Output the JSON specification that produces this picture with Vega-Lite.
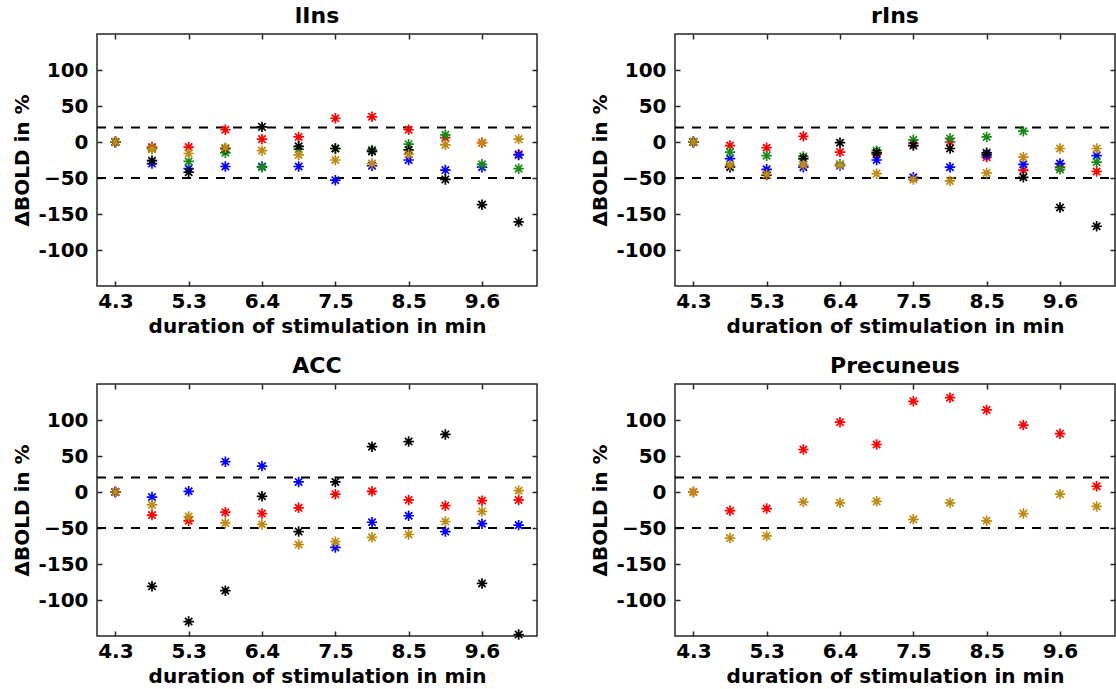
{
  "$schema": "https://vega.github.io/schema/vega-lite/v6.json",
  "autosize": {"type": "pad"},
  "padding": {"left": 12, "top": 4, "right": 0, "bottom": 0},
  "background": "white",
  "config": {
    "font": "DejaVu Sans",
    "view": {"stroke": "#262626", "strokeWidth": 1.5},
    "axis": {
      "labelFont": "DejaVu Sans", "labelFontSize": 20, "labelFontWeight": "bold", "labelColor": "black",
      "titleFont": "DejaVu Sans", "titleFontSize": 20, "titleFontWeight": "bold", "titleColor": "black",
      "grid": false, "domain": false, "tickColor": "#262626", "tickWidth": 1.5, "tickSize": -5
    },
    "title": {"font": "DejaVu Sans", "fontSize": 22, "fontWeight": "bold", "color": "black", "offset": 5}
  },
  "datasets": {
    "lIns": [
      {"s":"red","t":4.267,"v":0},{"s":"red","t":4.8,"v":-7},{"s":"red","t":5.333,"v":-7},{"s":"red","t":5.867,"v":17},{"s":"red","t":6.4,"v":4},{"s":"red","t":6.933,"v":7},{"s":"red","t":7.467,"v":33},{"s":"red","t":8.0,"v":35},{"s":"red","t":8.533,"v":17},{"s":"red","t":9.067,"v":6},{"s":"red","t":9.6,"v":-1},{"s":"red","t":10.133,"v":-17},
      {"s":"blue","t":4.267,"v":0},{"s":"blue","t":4.8,"v":-30},{"s":"blue","t":5.333,"v":-37},{"s":"blue","t":5.867,"v":-34},{"s":"blue","t":6.4,"v":-34},{"s":"blue","t":6.933,"v":-34},{"s":"blue","t":7.467,"v":-53},{"s":"blue","t":8.0,"v":-33},{"s":"blue","t":8.533,"v":-25},{"s":"blue","t":9.067,"v":-39},{"s":"blue","t":9.6,"v":-35},{"s":"blue","t":10.133,"v":-18},
      {"s":"green","t":4.267,"v":0},{"s":"green","t":4.8,"v":-9},{"s":"green","t":5.333,"v":-27},{"s":"green","t":5.867,"v":-15},{"s":"green","t":6.4,"v":-35},{"s":"green","t":6.933,"v":-10},{"s":"green","t":7.467,"v":-9},{"s":"green","t":8.0,"v":-11},{"s":"green","t":8.533,"v":-3},{"s":"green","t":9.067,"v":10},{"s":"green","t":9.6,"v":-31},{"s":"green","t":10.133,"v":-37},
      {"s":"black","t":4.267,"v":0},{"s":"black","t":4.8,"v":-26},{"s":"black","t":5.333,"v":-42},{"s":"black","t":5.867,"v":-9},{"s":"black","t":6.4,"v":21},{"s":"black","t":6.933,"v":-6},{"s":"black","t":7.467,"v":-9},{"s":"black","t":8.0,"v":-13},{"s":"black","t":8.533,"v":-11},{"s":"black","t":9.067,"v":-52},{"s":"black","t":9.6,"v":-87},{"s":"black","t":10.133,"v":-111},
      {"s":"gold","t":4.267,"v":0},{"s":"gold","t":4.8,"v":-10},{"s":"gold","t":5.333,"v":-16},{"s":"gold","t":5.867,"v":-8},{"s":"gold","t":6.4,"v":-12},{"s":"gold","t":6.933,"v":-18},{"s":"gold","t":7.467,"v":-25},{"s":"gold","t":8.0,"v":-30},{"s":"gold","t":8.533,"v":-17},{"s":"gold","t":9.067,"v":-4},{"s":"gold","t":9.6,"v":-1},{"s":"gold","t":10.133,"v":4}
    ],
    "rIns": [
      {"s":"red","t":4.267,"v":0},{"s":"red","t":4.8,"v":-5},{"s":"red","t":5.333,"v":-8},{"s":"red","t":5.867,"v":8},{"s":"red","t":6.4,"v":-14},{"s":"red","t":6.933,"v":-17},{"s":"red","t":7.467,"v":-2},{"s":"red","t":8.0,"v":0},{"s":"red","t":8.533,"v":-21},{"s":"red","t":9.067,"v":-39},{"s":"red","t":9.6,"v":-35},{"s":"red","t":10.133,"v":-41},
      {"s":"blue","t":4.267,"v":0},{"s":"blue","t":4.8,"v":-23},{"s":"blue","t":5.333,"v":-38},{"s":"blue","t":5.867,"v":-35},{"s":"blue","t":6.4,"v":-33},{"s":"blue","t":6.933,"v":-25},{"s":"blue","t":7.467,"v":-49},{"s":"blue","t":8.0,"v":-35},{"s":"blue","t":8.533,"v":-18},{"s":"blue","t":9.067,"v":-31},{"s":"blue","t":9.6,"v":-30},{"s":"blue","t":10.133,"v":-19},
      {"s":"green","t":4.267,"v":0},{"s":"green","t":4.8,"v":-14},{"s":"green","t":5.333,"v":-19},{"s":"green","t":5.867,"v":-20},{"s":"green","t":6.4,"v":-31},{"s":"green","t":6.933,"v":-12},{"s":"green","t":7.467,"v":3},{"s":"green","t":8.0,"v":5},{"s":"green","t":8.533,"v":7},{"s":"green","t":9.067,"v":15},{"s":"green","t":9.6,"v":-38},{"s":"green","t":10.133,"v":-28},
      {"s":"black","t":4.267,"v":0},{"s":"black","t":4.8,"v":-35},{"s":"black","t":5.333,"v":-46},{"s":"black","t":5.867,"v":-23},{"s":"black","t":6.4,"v":-1},{"s":"black","t":6.933,"v":-15},{"s":"black","t":7.467,"v":-5},{"s":"black","t":8.0,"v":-9},{"s":"black","t":8.533,"v":-15},{"s":"black","t":9.067,"v":-49},{"s":"black","t":9.6,"v":-91},{"s":"black","t":10.133,"v":-117},
      {"s":"gold","t":4.267,"v":0},{"s":"gold","t":4.8,"v":-32},{"s":"gold","t":5.333,"v":-45},{"s":"gold","t":5.867,"v":-32},{"s":"gold","t":6.4,"v":-32},{"s":"gold","t":6.933,"v":-44},{"s":"gold","t":7.467,"v":-52},{"s":"gold","t":8.0,"v":-54},{"s":"gold","t":8.533,"v":-43},{"s":"gold","t":9.067,"v":-21},{"s":"gold","t":9.6,"v":-9},{"s":"gold","t":10.133,"v":-9}
    ],
    "ACC": [
      {"s":"red","t":4.267,"v":0},{"s":"red","t":4.8,"v":-32},{"s":"red","t":5.333,"v":-40},{"s":"red","t":5.867,"v":-28},{"s":"red","t":6.4,"v":-30},{"s":"red","t":6.933,"v":-22},{"s":"red","t":7.467,"v":-3},{"s":"red","t":8.0,"v":1},{"s":"red","t":8.533,"v":-11},{"s":"red","t":9.067,"v":-19},{"s":"red","t":9.6,"v":-12},{"s":"red","t":10.133,"v":-11},
      {"s":"blue","t":4.267,"v":0},{"s":"blue","t":4.8,"v":-7},{"s":"blue","t":5.333,"v":1},{"s":"blue","t":5.867,"v":42},{"s":"blue","t":6.4,"v":36},{"s":"blue","t":6.933,"v":14},{"s":"blue","t":7.467,"v":-77},{"s":"blue","t":8.0,"v":-42},{"s":"blue","t":8.533,"v":-33},{"s":"blue","t":9.067,"v":-55},{"s":"blue","t":9.6,"v":-44},{"s":"blue","t":10.133,"v":-46},
      {"s":"black","t":4.267,"v":0},{"s":"black","t":4.8,"v":-131},{"s":"black","t":5.333,"v":-180},{"s":"black","t":5.867,"v":-137},{"s":"black","t":6.4,"v":-6},{"s":"black","t":6.933,"v":-55},{"s":"black","t":7.467,"v":14},{"s":"black","t":8.0,"v":63},{"s":"black","t":8.533,"v":70},{"s":"black","t":9.067,"v":80},{"s":"black","t":9.6,"v":-127},{"s":"black","t":10.133,"v":-198},
      {"s":"gold","t":4.267,"v":0},{"s":"gold","t":4.8,"v":-18},{"s":"gold","t":5.333,"v":-34},{"s":"gold","t":5.867,"v":-43},{"s":"gold","t":6.4,"v":-45},{"s":"gold","t":6.933,"v":-73},{"s":"gold","t":7.467,"v":-69},{"s":"gold","t":8.0,"v":-63},{"s":"gold","t":8.533,"v":-59},{"s":"gold","t":9.067,"v":-41},{"s":"gold","t":9.6,"v":-27},{"s":"gold","t":10.133,"v":2}
    ],
    "Precuneus": [
      {"s":"red","t":4.267,"v":0},{"s":"red","t":4.8,"v":-26},{"s":"red","t":5.333,"v":-23},{"s":"red","t":5.867,"v":59},{"s":"red","t":6.4,"v":97},{"s":"red","t":6.933,"v":66},{"s":"red","t":7.467,"v":126},{"s":"red","t":8.0,"v":131},{"s":"red","t":8.533,"v":114},{"s":"red","t":9.067,"v":93},{"s":"red","t":9.6,"v":81},{"s":"red","t":10.133,"v":8},
      {"s":"gold","t":4.267,"v":0},{"s":"gold","t":4.8,"v":-64},{"s":"gold","t":5.333,"v":-61},{"s":"gold","t":5.867,"v":-14},{"s":"gold","t":6.4,"v":-15},{"s":"gold","t":6.933,"v":-13},{"s":"gold","t":7.467,"v":-38},{"s":"gold","t":8.0,"v":-15},{"s":"gold","t":8.533,"v":-40},{"s":"gold","t":9.067,"v":-30},{"s":"gold","t":9.6,"v":-3},{"s":"gold","t":10.133,"v":-20}
    ],
    "refs": [{"ref": 20}, {"ref": -50}]
  },
  "columns": 2,
  "spacing": {"row": 98, "column": 138},
  "bounds": "flush",
  "concat": [
    {
      "title": "lIns", "width": 440, "height": 252,
      "layer": [
        {"data": {"name": "refs"}, "mark": {"type": "rule", "strokeDash": [9, 8], "strokeWidth": 2, "color": "black"},
         "encoding": {
           "x": {"datum": 4, "type": "quantitative", "scale": {"domain": [4, 10.4], "nice": false, "zero": false}, "axis": {"orient": "top", "labels": false, "title": null, "values": [4.267, 5.333, 6.4, 7.467, 8.533, 9.6]}},
           "x2": {"datum": 10.4},
           "y": {"field": "ref", "type": "quantitative", "scale": {"domain": [-200, 150], "nice": false, "zero": false}, "axis": {"orient": "right", "labels": false, "title": null, "values": [100, 50, 0, -50, -100, -150]}}
         }},
        {"data": {"name": "lIns"}, "mark": {"type": "point", "shape": "M-1,0L1,0M0,-1L0,1M-0.7,-0.7L0.7,0.7M-0.7,0.7L0.7,-0.7", "filled": false, "size": 110, "strokeWidth": 1.7, "opacity": 1},
         "encoding": {
           "x": {"field": "t", "type": "quantitative", "scale": {"domain": [4, 10.4], "nice": false, "zero": false}, "axis": {"orient": "bottom", "title": "duration of stimulation in min", "values": [4.267, 5.333, 6.4, 7.467, 8.533, 9.6], "format": ".1f", "labelPadding": 10, "titlePadding": 5}},
           "y": {"field": "v", "type": "quantitative", "scale": {"domain": [-200, 150], "nice": false, "zero": false}, "axis": {"orient": "left", "title": "ΔBOLD in %", "values": [100, 50, 0, -50, -100, -150], "labelExpr": "datum.value == -100 ? '-150' : datum.value == -150 ? '-100' : datum.label", "labelPadding": 14, "titlePadding": 5}},
           "color": {"field": "s", "type": "nominal", "scale": {"domain": ["red", "blue", "green", "black", "gold"], "range": ["#ff0000", "#0000ff", "#1a8a1a", "#000000", "#be8c14"]}, "legend": null}
         }}
      ],
      "resolve": {"axis": {"x": "independent", "y": "independent"}}
    },
    {
      "title": "rIns", "width": 440, "height": 252,
      "layer": [
        {"data": {"name": "refs"}, "mark": {"type": "rule", "strokeDash": [9, 8], "strokeWidth": 2, "color": "black"},
         "encoding": {
           "x": {"datum": 4, "type": "quantitative", "scale": {"domain": [4, 10.4], "nice": false, "zero": false}, "axis": {"orient": "top", "labels": false, "title": null, "values": [4.267, 5.333, 6.4, 7.467, 8.533, 9.6]}},
           "x2": {"datum": 10.4},
           "y": {"field": "ref", "type": "quantitative", "scale": {"domain": [-200, 150], "nice": false, "zero": false}, "axis": {"orient": "right", "labels": false, "title": null, "values": [100, 50, 0, -50, -100, -150]}}
         }},
        {"data": {"name": "rIns"}, "mark": {"type": "point", "shape": "M-1,0L1,0M0,-1L0,1M-0.7,-0.7L0.7,0.7M-0.7,0.7L0.7,-0.7", "filled": false, "size": 110, "strokeWidth": 1.7, "opacity": 1},
         "encoding": {
           "x": {"field": "t", "type": "quantitative", "scale": {"domain": [4, 10.4], "nice": false, "zero": false}, "axis": {"orient": "bottom", "title": "duration of stimulation in min", "values": [4.267, 5.333, 6.4, 7.467, 8.533, 9.6], "format": ".1f", "labelPadding": 10, "titlePadding": 5}},
           "y": {"field": "v", "type": "quantitative", "scale": {"domain": [-200, 150], "nice": false, "zero": false}, "axis": {"orient": "left", "title": "ΔBOLD in %", "values": [100, 50, 0, -50, -100, -150], "labelExpr": "datum.value == -100 ? '-150' : datum.value == -150 ? '-100' : datum.label", "labelPadding": 14, "titlePadding": 5}},
           "color": {"field": "s", "type": "nominal", "scale": {"domain": ["red", "blue", "green", "black", "gold"], "range": ["#ff0000", "#0000ff", "#1a8a1a", "#000000", "#be8c14"]}, "legend": null}
         }}
      ],
      "resolve": {"axis": {"x": "independent", "y": "independent"}}
    },
    {
      "title": "ACC", "width": 440, "height": 252,
      "layer": [
        {"data": {"name": "refs"}, "mark": {"type": "rule", "strokeDash": [9, 8], "strokeWidth": 2, "color": "black"},
         "encoding": {
           "x": {"datum": 4, "type": "quantitative", "scale": {"domain": [4, 10.4], "nice": false, "zero": false}, "axis": {"orient": "top", "labels": false, "title": null, "values": [4.267, 5.333, 6.4, 7.467, 8.533, 9.6]}},
           "x2": {"datum": 10.4},
           "y": {"field": "ref", "type": "quantitative", "scale": {"domain": [-200, 150], "nice": false, "zero": false}, "axis": {"orient": "right", "labels": false, "title": null, "values": [100, 50, 0, -50, -100, -150]}}
         }},
        {"data": {"name": "ACC"}, "mark": {"type": "point", "shape": "M-1,0L1,0M0,-1L0,1M-0.7,-0.7L0.7,0.7M-0.7,0.7L0.7,-0.7", "filled": false, "size": 110, "strokeWidth": 1.7, "opacity": 1},
         "encoding": {
           "x": {"field": "t", "type": "quantitative", "scale": {"domain": [4, 10.4], "nice": false, "zero": false}, "axis": {"orient": "bottom", "title": "duration of stimulation in min", "values": [4.267, 5.333, 6.4, 7.467, 8.533, 9.6], "format": ".1f", "labelPadding": 10, "titlePadding": 5}},
           "y": {"field": "v", "type": "quantitative", "scale": {"domain": [-200, 150], "nice": false, "zero": false}, "axis": {"orient": "left", "title": "ΔBOLD in %", "values": [100, 50, 0, -50, -100, -150], "labelExpr": "datum.value == -100 ? '-150' : datum.value == -150 ? '-100' : datum.label", "labelPadding": 14, "titlePadding": 5}},
           "color": {"field": "s", "type": "nominal", "scale": {"domain": ["red", "blue", "green", "black", "gold"], "range": ["#ff0000", "#0000ff", "#1a8a1a", "#000000", "#be8c14"]}, "legend": null}
         }}
      ],
      "resolve": {"axis": {"x": "independent", "y": "independent"}}
    },
    {
      "title": "Precuneus", "width": 440, "height": 252,
      "layer": [
        {"data": {"name": "refs"}, "mark": {"type": "rule", "strokeDash": [9, 8], "strokeWidth": 2, "color": "black"},
         "encoding": {
           "x": {"datum": 4, "type": "quantitative", "scale": {"domain": [4, 10.4], "nice": false, "zero": false}, "axis": {"orient": "top", "labels": false, "title": null, "values": [4.267, 5.333, 6.4, 7.467, 8.533, 9.6]}},
           "x2": {"datum": 10.4},
           "y": {"field": "ref", "type": "quantitative", "scale": {"domain": [-200, 150], "nice": false, "zero": false}, "axis": {"orient": "right", "labels": false, "title": null, "values": [100, 50, 0, -50, -100, -150]}}
         }},
        {"data": {"name": "Precuneus"}, "mark": {"type": "point", "shape": "M-1,0L1,0M0,-1L0,1M-0.7,-0.7L0.7,0.7M-0.7,0.7L0.7,-0.7", "filled": false, "size": 110, "strokeWidth": 1.7, "opacity": 1},
         "encoding": {
           "x": {"field": "t", "type": "quantitative", "scale": {"domain": [4, 10.4], "nice": false, "zero": false}, "axis": {"orient": "bottom", "title": "duration of stimulation in min", "values": [4.267, 5.333, 6.4, 7.467, 8.533, 9.6], "format": ".1f", "labelPadding": 10, "titlePadding": 5}},
           "y": {"field": "v", "type": "quantitative", "scale": {"domain": [-200, 150], "nice": false, "zero": false}, "axis": {"orient": "left", "title": "ΔBOLD in %", "values": [100, 50, 0, -50, -100, -150], "labelExpr": "datum.value == -100 ? '-150' : datum.value == -150 ? '-100' : datum.label", "labelPadding": 14, "titlePadding": 5}},
           "color": {"field": "s", "type": "nominal", "scale": {"domain": ["red", "blue", "green", "black", "gold"], "range": ["#ff0000", "#0000ff", "#1a8a1a", "#000000", "#be8c14"]}, "legend": null}
         }}
      ],
      "resolve": {"axis": {"x": "independent", "y": "independent"}}
    }
  ]
}
